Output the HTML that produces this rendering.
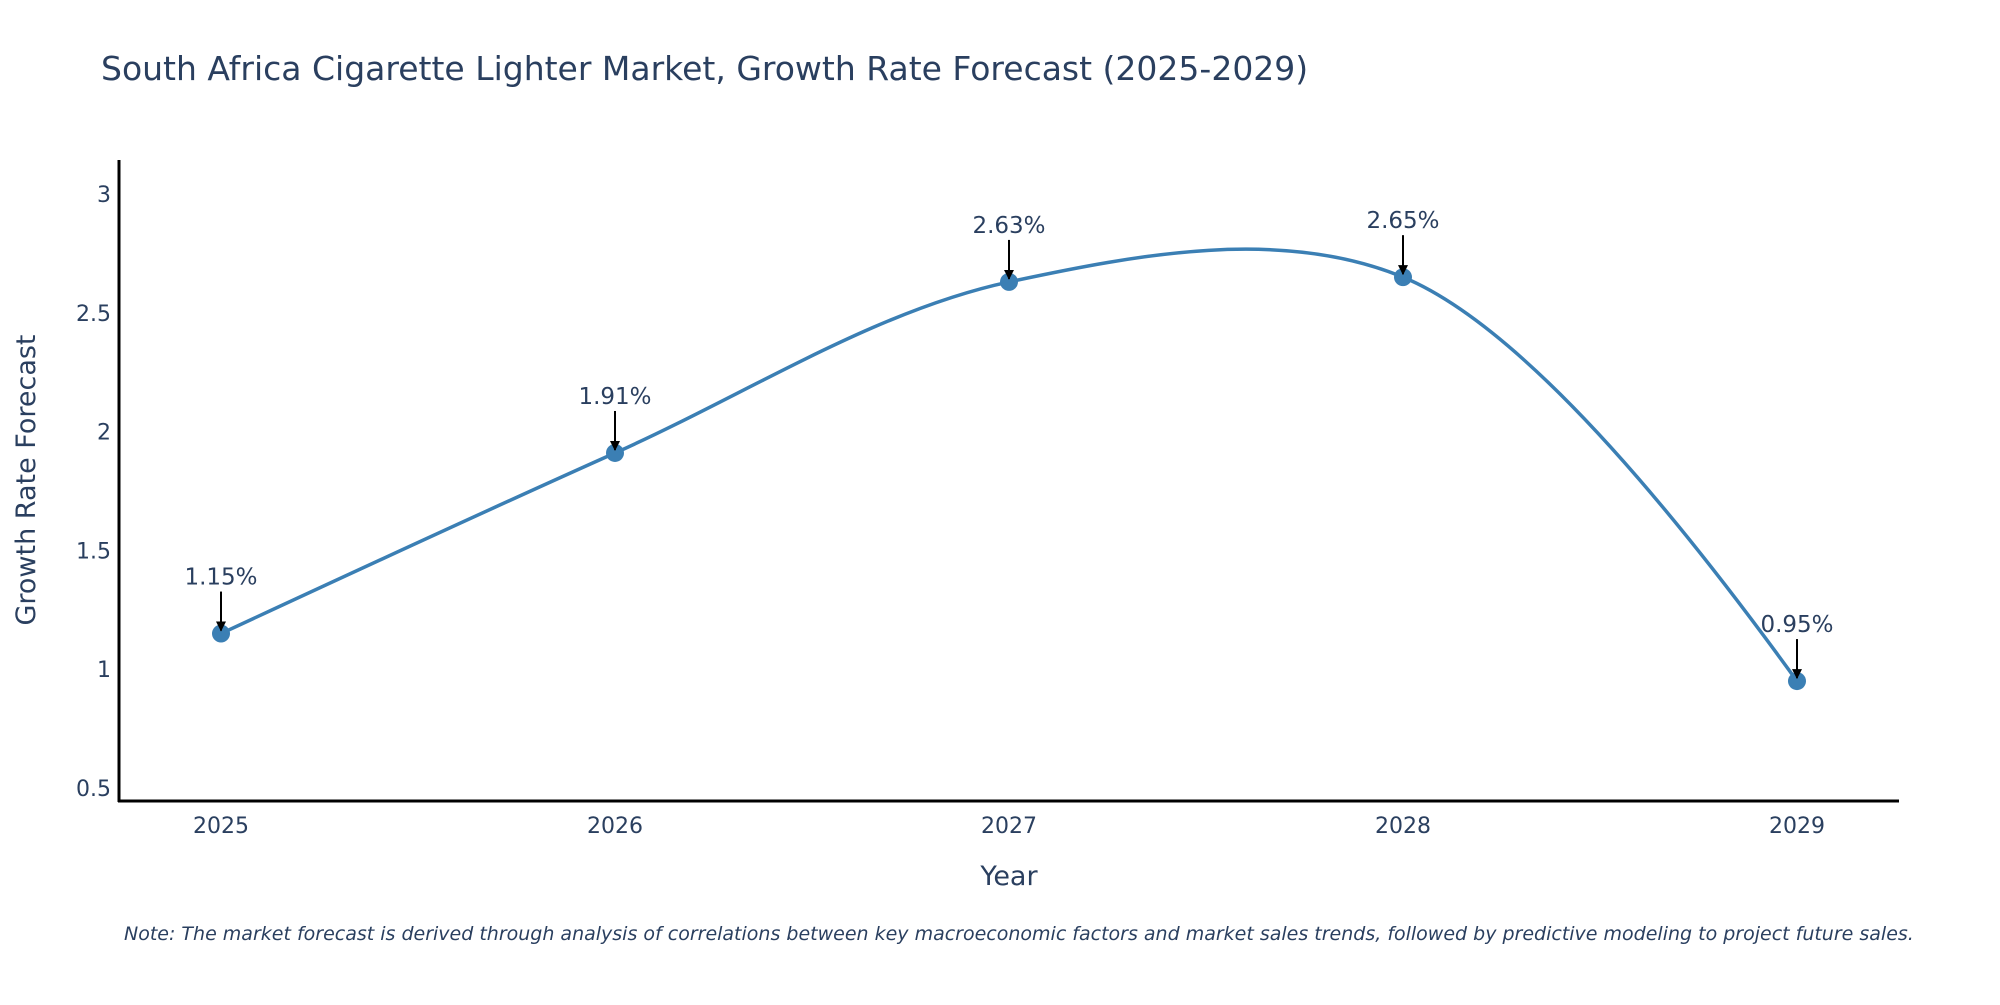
<!DOCTYPE html>
<html><head><meta charset="utf-8"><style>
body{margin:0;background:#fff;}
svg text{font-family:"DejaVu Sans","Liberation Sans",sans-serif;fill:#2a3f5f;}
</style></head><body>
<svg id="chart" width="2000" height="1000" xmlns="http://www.w3.org/2000/svg">
<defs><marker id="ah" viewBox="0 0 10 10" refX="9" refY="5" markerWidth="5" markerHeight="5" orient="auto"><path d="M0,0 L10,5 L0,10 z" fill="#000"/></marker></defs>
<text x="101" y="80" font-size="33">South Africa Cigarette Lighter Market, Growth Rate Forecast (2025-2029)</text>
<g id="yticks"></g>
<g id="xticks"></g>
<line x1="119" y1="160" x2="119" y2="802" stroke="#000" stroke-width="3"/>
<line x1="118" y1="801" x2="1899" y2="801" stroke="#000" stroke-width="3"/>
<text transform="translate(35,480) rotate(-90)" text-anchor="middle" font-size="27">Growth Rate Forecast</text>
<text x="1009" y="885" text-anchor="middle" font-size="27">Year</text>
<text x="124" y="940" font-size="19" font-style="italic">Note: The market forecast is derived through analysis of correlations between key macroeconomic factors and market sales trends, followed by predictive modeling to project future sales.</text>
<g id="series"></g>
<g id="annots"></g>
</svg>
<script>
const years = [2025, 2026, 2027, 2028, 2029];
const growth = [1.15, 1.91, 2.63, 2.65, 0.95];
const labels = ["1.15%", "1.91%", "2.63%", "2.65%", "0.95%"];
const yTicks = [0.5, 1, 1.5, 2, 2.5, 3];

const NS = "http://www.w3.org/2000/svg";
function xs(yr){ return 221 + (yr - 2025) * 394; }
function ys(v){ return 788 - (v - 0.5) * 237.6; }
function mk(tag, attrs, parent){ const e=document.createElementNS(NS,tag); for(const k in attrs) e.setAttribute(k,attrs[k]); parent.appendChild(e); return e; }

const yg=document.getElementById('yticks');
yTicks.forEach(t=>{
  const el=mk('text',{x:111,y:ys(t)+8,'text-anchor':'end','font-size':22},yg);
  el.textContent=String(t);
  
  
});
const xg=document.getElementById('xticks');
years.forEach(y=>{
  const el=mk('text',{x:xs(y),y:833,'text-anchor':'middle','font-size':22},xg);
  el.textContent=String(y);
  
  
});

// plotly-style spline
const pts = years.map((y,i)=>[xs(y), ys(growth[i])]);
function tangent(p0,p1,p2,s){
  const d1x=p0[0]-p1[0], d1y=p0[1]-p1[1], d2x=p2[0]-p1[0], d2y=p2[1]-p1[1];
  const d1a=Math.pow(d1x*d1x+d1y*d1y,0.25), d2a=Math.pow(d2x*d2x+d2y*d2y,0.25);
  const nx=(d2a*d2a*d1x-d1a*d1a*d2x)*s, ny=(d2a*d2a*d1y-d1a*d1a*d2y)*s;
  const den1=3*d2a*(d1a+d2a), den2=3*d1a*(d1a+d2a);
  return [[p1[0]+nx/den1,p1[1]+ny/den1],[p1[0]-nx/den2,p1[1]-ny/den2]];
}
const tg=[];
for(let i=1;i<pts.length-1;i++) tg.push(tangent(pts[i-1],pts[i],pts[i+1],1));
let d='M'+pts[0]+'Q'+tg[0][0]+' '+pts[1];
for(let i=1;i<pts.length-2;i++) d+='C'+tg[i-1][1]+' '+tg[i][0]+' '+pts[i+1];
d+='Q'+tg[pts.length-3][1]+' '+pts[pts.length-1];
const sg=document.getElementById('series');
const line=mk('path',{d:d,fill:'none',stroke:'#3b7fb4','stroke-width':3.5},sg);


pts.forEach(p=>{
  const c=mk('circle',{cx:p[0],cy:p[1],r:9,fill:'#3b7fb4'},sg);
  
  
});
const ag=document.getElementById('annots');
pts.forEach((p,i)=>{
  const a=mk('line',{x1:p[0],y1:p[1]-42,x2:p[0],y2:p[1]-3,stroke:'#000','stroke-width':2,'marker-end':'url(#ah)'},ag);
  
  
  const t=mk('text',{x:p[0],y:p[1]-49,'text-anchor':'middle','font-size':23},ag);
  t.textContent=labels[i];
  
  
});
</script>
</body></html>
